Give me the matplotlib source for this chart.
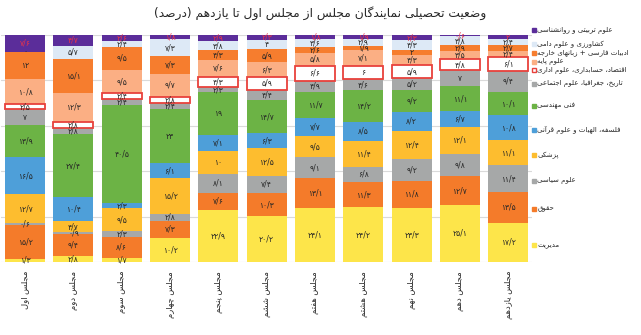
import matplotlib
matplotlib.use('Agg')
import matplotlib.pyplot as plt
import numpy as np

plt.rcParams['font.family'] = ['DejaVu Sans']

# majlis 1..11
majlis = ['مجلس اول', 'مجلس دوم', 'مجلس سوم', 'مجلس چهارم', 'مجلس پنجم', 'مجلس ششم',
          'مجلس هفتم', 'مجلس هشتم', 'مجلس نهم', 'مجلس دهم', 'مجلس یازدهم']

# series, bottom to top of each bar
mgmt = [1.3, 2.8, 1.7, 10.2, 22.9, 20.2, 24.1, 24.2, 23.3, 25.1, 17.2]
law = [15.2, 9.4, 8.6, 7.3, 7.6, 10.3, 13.1, 11.3, 11.8, 12.7, 13.5]
pol = [0.6, 0.9, 2.3, 2.8, 8.1, 7.4, 9.1, 6.8, 9.2, 9.8, 11.4]
med = [12.7, 4.7, 9.5, 15.2, 10, 12.5, 9.5, 11.4, 12.4, 12.1, 11.1]
phil = [16.5, 10.4, 2.3, 6.1, 7.1, 6.3, 7.7, 8.5, 8.2, 6.7, 10.8]
eng = [13.9, 27.4, 40.5, 23, 19, 14.7, 11.7, 14.2, 9.2, 11.1, 10.1]
hist = [7, 2.8, 2.4, 2.4, 2.3, 4.4, 4.9, 4.6, 5.2, 7, 9.4]
econ = [2.5, 2.8, 2.4, 2.8, 4.3, 5.9, 6.6, 6, 5.9, 4.8, 6.1]
basic = [10.8, 12.3, 9.5, 9.7, 7.6, 6.3, 5.8, 7.1, 4.3, 3.5, 2.4]
lit = [12, 15.1, 9.5, 7.3, 4.3, 5.9, 2.6, 1.9, 2, 2.9, 2.7]
agri = [0, 5.7, 2.4, 7.3, 3.8, 4, 3.6, 2.9, 4.3, 3.8, 2.4]
edu = [7.6, 4.7, 2.6, 1.8, 2.9, 2.3, 1.8, 1.9, 2.3, 0.6, 2]

names = ['مدیریت', 'حقوق', 'علوم سیاسی', 'پزشکی', 'فلسفه، الهیات و علوم قرآنی', 'فنی مهندسی',
         'تاریخ، جغرافیا، علوم اجتماعی', 'اقتصاد، حسابداری، علوم اداری', 'علوم پایه',
         'ادبیات فارسی + زبانهای خارجه', 'کشاورزی و علوم دامی', 'علوم تربیتی و روانشناسی']
series = [mgmt, law, pol, med, phil, eng, hist, econ, basic, lit, agri, edu]
colors = ['#FDE54A', '#F47B2A', '#A6A8A8', '#FDBD2F', '#4E9FD9', '#6CB345',
          '#A6A8A8', '#FFFFFF', '#FBAF84', '#F67D2E', '#DDE9F6', '#5B2D9A']

title = 'وضعیت تحصیلی نمایندگان مجلس از مجلس اول تا یازدهم (درصد)'


# --- minimal arabic/persian shaping (no bidi lib available) ---
FORMS = {
    'ا': (0xFE8D, 0xFE8E), 'آ': (0xFE81, 0xFE82),
    'ب': (0xFE8F, 0xFE90, 0xFE91, 0xFE92), 'پ': (0xFB56, 0xFB57, 0xFB58, 0xFB59),
    'ت': (0xFE95, 0xFE96, 0xFE97, 0xFE98), 'ث': (0xFE99, 0xFE9A, 0xFE9B, 0xFE9C),
    'ج': (0xFE9D, 0xFE9E, 0xFE9F, 0xFEA0), 'چ': (0xFB7A, 0xFB7B, 0xFB7C, 0xFB7D),
    'ح': (0xFEA1, 0xFEA2, 0xFEA3, 0xFEA4), 'خ': (0xFEA5, 0xFEA6, 0xFEA7, 0xFEA8),
    'د': (0xFEA9, 0xFEAA), 'ذ': (0xFEAB, 0xFEAC), 'ر': (0xFEAD, 0xFEAE),
    'ز': (0xFEAF, 0xFEB0), 'ژ': (0xFB8A, 0xFB8B),
    'س': (0xFEB1, 0xFEB2, 0xFEB3, 0xFEB4), 'ش': (0xFEB5, 0xFEB6, 0xFEB7, 0xFEB8),
    'ص': (0xFEB9, 0xFEBA, 0xFEBB, 0xFEBC), 'ض': (0xFEBD, 0xFEBE, 0xFEBF, 0xFEC0),
    'ط': (0xFEC1, 0xFEC2, 0xFEC3, 0xFEC4), 'ظ': (0xFEC5, 0xFEC6, 0xFEC7, 0xFEC8),
    'ع': (0xFEC9, 0xFECA, 0xFECB, 0xFECC), 'غ': (0xFECD, 0xFECE, 0xFECF, 0xFED0),
    'ف': (0xFED1, 0xFED2, 0xFED3, 0xFED4), 'ق': (0xFED5, 0xFED6, 0xFED7, 0xFED8),
    'ک': (0xFB8E, 0xFB8F, 0xFB90, 0xFB91), 'گ': (0xFB92, 0xFB93, 0xFB94, 0xFB95),
    'ل': (0xFEDD, 0xFEDE, 0xFEDF, 0xFEE0), 'م': (0xFEE1, 0xFEE2, 0xFEE3, 0xFEE4),
    'ن': (0xFEE5, 0xFEE6, 0xFEE7, 0xFEE8), 'و': (0xFEED, 0xFEEE),
    'ه': (0xFEE9, 0xFEEA, 0xFEEB, 0xFEEC), 'ی': (0xFBFC, 0xFBFD, 0xFBFE, 0xFBFF),
}


def shape(s):
    out = []
    for i, c in enumerate(s):
        if c not in FORMS:
            out.append(c)
            continue
        prev = s[i - 1] if i > 0 else ''
        nxt = s[i + 1] if i + 1 < len(s) else ''
        f = FORMS[c]
        jp = prev in FORMS and len(FORMS[prev]) == 4
        jn = nxt in FORMS and len(f) == 4
        if jp and jn:
            out.append(chr(f[3]))
        elif jp:
            out.append(chr(f[1]))
        elif jn:
            out.append(chr(f[2]))
        else:
            out.append(chr(f[0]))
    vis = ''.join(out)[::-1]
    return vis.translate(str.maketrans('()', ')('))


def fa_num(v):
    s = f'{v:g}'.replace('.', '/')
    return s.translate(str.maketrans('0123456789', '۰۱۲۳۴۵۶۷۸۹'))


fig = plt.figure(figsize=(6.41, 3.35), dpi=100)
ax = fig.add_axes([0.0015, 0.218, 0.829, 0.678])

data = np.array(series, dtype=float)
pct = data / data.sum(axis=0) * 100
x = np.arange(len(majlis))
w = 0.83

bottom = np.zeros(len(majlis))
for k in range(len(series)):
    if k == 7:
        ax.bar(x, pct[k], w, bottom=bottom, color='white', edgecolor='#E8413C', linewidth=1.3, zorder=3)
    else:
        ax.bar(x, pct[k], w, bottom=bottom, color=colors[k], linewidth=0, zorder=2)
    for i in range(len(majlis)):
        tc = '#E8344A' if k == 11 else '#262626'
        ax.text(x[i], bottom[i] + pct[k][i] / 2, fa_num(series[k][i]), ha='center', va='center',
                fontsize=5.5, color=tc, zorder=4)
    bottom += pct[k]

# series names next to the last bar, spread a little so they don't collide
ypos = np.cumsum(pct[:, -1]) - pct[:, -1] / 2 - 1.0
ypos[-1] = 102
for k in range(len(series) - 2, -1, -1):
    ypos[k] = min(ypos[k], ypos[k + 1] - 3.8)
for k in range(len(series)):
    if k == 7:
        ax.plot(10.53, ypos[k], marker='s', ms=3.5, mfc='white', mec='#E8413C', mew=1, clip_on=False)
    else:
        ax.plot(10.53, ypos[k], marker='s', ms=3.5, mfc=colors[k], mec=colors[k], clip_on=False)
    ax.text(10.6, ypos[k], shape(names[k]), ha='left', va='center', fontsize=5, color='#262626',
            clip_on=False)

ax.set_xlim(-0.5, 10.5)
ax.set_ylim(0, 100)
ax.set_yticks([0, 20, 40, 60, 80, 100])
ax.yaxis.grid(True, color='#DADADA', linewidth=0.8, zorder=0)
ax.set_axisbelow(True)
ax.tick_params(axis='y', left=False, labelleft=False)
ax.tick_params(axis='x', bottom=False, pad=3)
ax.set_xticks(x)
ax.set_xticklabels([shape(m) for m in majlis], rotation=90, fontsize=6, color='#262626')
for s in ax.spines.values():
    s.set_visible(False)

fig.text(0.5, 0.962, shape(title), ha='center', va='center', fontsize=8.8, color='#262626')

fig.savefig('out.png', dpi=100)
